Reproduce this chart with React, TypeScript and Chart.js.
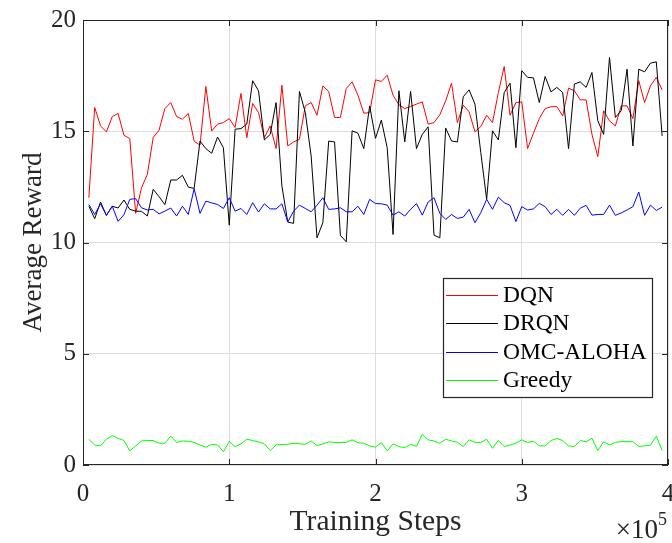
import React, { useEffect, useRef } from 'react';
import { Chart, registerables } from 'chart.js';

Chart.register(...registerables);

// ---- data ----
const DQN = [
  12.01, 16.07, 15.24, 14.97, 15.66, 15.80, 14.82, 14.67, 11.31, 12.46,
  13.06, 14.72, 15.05, 16.02, 16.29, 15.66, 15.54, 15.80, 14.56, 14.37,
  17.01, 15.01, 15.32, 15.39, 15.57, 15.17, 16.70, 14.71, 16.25, 15.84,
  14.71, 15.24, 14.22, 17.07, 14.34, 14.52, 14.64, 16.14, 16.29, 15.72,
  17.04, 16.79, 15.62, 15.62, 16.92, 17.22, 16.62, 15.81, 15.84, 17.31,
  17.24, 17.52, 16.62, 16.19, 16.02, 16.11, 16.22, 16.32, 15.32, 15.39,
  15.74, 16.37, 17.16, 15.39, 16.17, 15.87, 14.98, 15.21, 15.72, 15.39,
  16.74, 17.91, 15.72, 16.29, 16.32, 14.22, 14.91, 15.57, 16.02, 16.10,
  16.11, 15.69, 16.94, 16.82, 16.41, 16.41, 14.86, 13.86, 15.92, 15.47,
  15.24, 16.14, 16.14, 15.57, 17.27, 16.29, 17.04, 17.42, 16.86,
];

const DRQN = [
  11.63, 11.07, 11.82, 11.22, 11.63, 11.55, 11.91, 11.49, 11.41, 11.40,
  11.19, 12.39, 12.06, 11.70, 12.81, 12.81, 13.02, 12.49, 12.43, 14.56,
  14.22, 14.01, 14.74, 14.26, 10.78, 15.09, 15.12, 15.32, 17.27, 16.82,
  14.61, 14.86, 16.29, 12.54, 10.92, 10.86, 16.79, 15.84, 13.89, 10.21,
  10.89, 14.56, 14.52, 10.32, 10.03, 15.02, 14.91, 14.22, 16.14, 14.68,
  15.50, 14.26, 10.36, 16.82, 14.52, 16.79, 14.22, 14.86, 15.20, 10.33,
  10.21, 15.14, 14.56, 14.52, 16.55, 16.86, 16.22, 14.04, 11.94, 15.02,
  14.61, 16.74, 17.16, 14.26, 17.72, 17.42, 17.40, 16.29, 17.46, 16.77,
  16.97, 16.74, 14.22, 17.12, 17.22, 16.97, 17.64, 15.47, 14.86, 18.32,
  15.62, 15.92, 17.79, 14.34, 17.79, 17.67, 18.06, 18.12, 14.79,
];

const OMC_ALOHA = [
  11.71, 11.26, 11.74, 11.22, 11.63, 10.95, 11.25, 11.94, 11.97, 11.56,
  11.46, 11.49, 11.29, 11.41, 11.55, 11.19, 11.63, 11.26, 12.42, 11.31,
  11.86, 11.78, 11.71, 11.53, 12.01, 11.41, 11.53, 11.26, 11.79, 11.37,
  11.74, 11.51, 11.51, 11.74, 10.92, 11.41, 11.68, 11.53, 11.38, 11.68,
  12.01, 11.49, 11.51, 11.56, 11.38, 11.38, 11.63, 11.26, 11.94, 11.75,
  11.74, 11.68, 11.23, 11.38, 11.19, 11.49, 11.75, 11.23, 11.82, 12.01,
  11.31, 11.04, 11.26, 11.08, 11.14, 11.49, 10.89, 11.34, 11.94, 11.49,
  12.04, 11.79, 11.67, 10.94, 11.61, 11.46, 11.51, 11.76, 11.61, 11.26,
  11.49, 11.22, 11.49, 11.22, 11.54, 11.67, 11.23, 11.26, 11.26, 11.68,
  11.22, 11.33, 11.46, 11.61, 12.27, 11.22, 11.68, 11.44, 11.59,
];

const GREEDY = [
  1.16, 0.90, 0.86, 1.16, 1.32, 1.20, 1.10, 0.63, 0.86, 1.08,
  1.10, 1.10, 0.98, 0.98, 1.30, 1.01, 1.08, 1.07, 1.01, 0.90,
  0.80, 0.93, 0.90, 0.60, 1.05, 0.83, 0.95, 1.16, 1.10, 1.04,
  0.95, 0.65, 0.90, 0.92, 0.93, 0.98, 0.95, 0.93, 1.08, 0.87,
  0.95, 1.04, 1.01, 1.01, 1.02, 1.13, 1.00, 0.98, 0.86, 0.80,
  1.01, 0.63, 0.95, 0.83, 0.78, 0.93, 0.83, 1.38, 1.13, 1.08,
  0.98, 1.16, 1.08, 1.02, 0.83, 1.13, 1.02, 1.01, 1.16, 0.75,
  1.10, 0.83, 0.90, 0.98, 1.13, 1.01, 1.07, 0.86, 0.86, 1.10,
  1.19, 1.10, 0.86, 0.83, 1.10, 1.04, 1.20, 0.65, 1.04, 0.90,
  1.02, 1.05, 1.05, 1.05, 0.83, 0.86, 0.89, 1.30, 0.65,
];

// training step of each sample (one sample every 4000 steps)
const STEP_INTERVAL = 4000;
const STEPS = DQN.map((_, k) => (k + 1) * STEP_INTERVAL);

const SERIES_NAMES = ['DQN', 'DRQN', 'OMC-ALOHA', 'Greedy'];
const SERIES_VALUES = [DQN, DRQN, OMC_ALOHA, GREEDY];
const SERIES_COLORS = ['#ff0000', '#000000', '#0000ff', '#00ff00'];

const X_TICKS = [0, 1, 2, 3, 4]; // in units of 10^5 steps
const X_EXPONENT = '5';
const Y_TICKS = [0, 5, 10, 15, 20];
const X_TITLE = 'Training Steps';
const Y_TITLE = 'Average Reward';

// ---- styling ----
const FONT = '"Liberation Serif", "Times New Roman", Times, serif';
const INK = '#262626';
const GRID = '#dedede';
const TICK_SIZE = 25;
const X_TITLE_SIZE = 29.5;
const Y_TITLE_SIZE = 27;
const LEGEND_SIZE = 23.5;
const EXP_BASE_SIZE = 27;
const EXP_SIZE = 18;

const matlabDecor = {
  id: 'matlabDecor',
  afterDatasetsDraw(chart: any) {
    const { ctx, chartArea } = chart;
    const { left, right, top, bottom } = chartArea;
    const xs = chart.scales.x;
    const ys = chart.scales.y;
    ctx.save();

    // axes box and inward ticks
    ctx.strokeStyle = INK;
    ctx.lineWidth = 1;
    const L = 6;
    ctx.beginPath();
    xs.ticks.forEach((t: any) => {
      const px = Math.round(xs.getPixelForValue(t.value)) + 0.5;
      ctx.moveTo(px, bottom);
      ctx.lineTo(px, bottom - L);
      ctx.moveTo(px, top);
      ctx.lineTo(px, top + L);
    });
    ys.ticks.forEach((t: any) => {
      const py = Math.round(ys.getPixelForValue(t.value)) + 0.5;
      ctx.moveTo(left, py);
      ctx.lineTo(left + L, py);
      ctx.moveTo(right, py);
      ctx.lineTo(right - L, py);
    });
    ctx.stroke();
    ctx.strokeRect(left + 0.5, top + 0.5, right - left - 1, bottom - top - 1);

    // legend
    const boxW = 210;
    const boxH = 120;
    const boxRight = right - 15;
    const boxLeft = boxRight - boxW;
    const boxTop = top + 258;
    ctx.fillStyle = '#ffffff';
    ctx.fillRect(boxLeft, boxTop, boxW, boxH);
    ctx.strokeStyle = INK;
    ctx.lineWidth = 1.2;
    ctx.strokeRect(boxLeft + 0.5, boxTop + 0.5, boxW - 1, boxH - 1);
    ctx.font = `${LEGEND_SIZE}px ${FONT}`;
    ctx.textBaseline = 'middle';
    ctx.textAlign = 'left';
    chart.data.datasets.forEach((ds: any, k: number) => {
      const ry = Math.round(boxTop + 17 + k * 28.3) + 0.5;
      ctx.strokeStyle = ds.borderColor;
      ctx.lineWidth = 1;
      ctx.beginPath();
      ctx.moveTo(boxLeft + 3, ry);
      ctx.lineTo(boxLeft + 55, ry);
      ctx.stroke();
      ctx.fillStyle = '#000000';
      ctx.fillText(ds.label, boxLeft + 60, ry);
    });

    // x exponent label
    ctx.fillStyle = INK;
    ctx.textBaseline = 'alphabetic';
    ctx.font = `${EXP_BASE_SIZE}px ${FONT}`;
    const base = '\u00d710';
    const w1 = ctx.measureText(base).width;
    ctx.font = `${EXP_SIZE}px ${FONT}`;
    const w2 = ctx.measureText(X_EXPONENT).width;
    const startX = right - 1 - w1 - w2;
    ctx.font = `${EXP_BASE_SIZE}px ${FONT}`;
    ctx.fillText(base, startX, 538);
    ctx.font = `${EXP_SIZE}px ${FONT}`;
    ctx.fillText(X_EXPONENT, startX + w1, 525);

    ctx.restore();
  },
};

export default function App() {
  const ref = useRef<HTMLCanvasElement | null>(null);

  useEffect(() => {
    if (!ref.current) return;
    const datasets = SERIES_NAMES.map((name, k) => ({
      label: name,
      data: STEPS.map((s, i) => ({ x: s, y: SERIES_VALUES[k][i] })),
      borderColor: SERIES_COLORS[k],
      backgroundColor: SERIES_COLORS[k],
      borderWidth: 1,
      pointRadius: 0,
      pointHoverRadius: 0,
      fill: false,
      tension: 0,
      order: SERIES_NAMES.length - 1 - k,
    }));

    const chart = new Chart(ref.current, {
      type: 'line',
      data: { datasets },
      options: {
        responsive: false,
        animation: false,
        devicePixelRatio: 1,
        layout: { padding: { top: 20, right: 4, left: 0, bottom: 0 } },
        plugins: {
          legend: { display: false },
          tooltip: { enabled: false },
        },
        scales: {
          x: {
            type: 'linear',
            min: 0,
            max: 400000,
            afterBuildTicks: (scale: any) => {
              scale.ticks = X_TICKS.map((v) => ({ value: v * 100000 }));
            },
            afterFit: (scale: any) => {
              scale.height = 78;
              scale.paddingLeft = 0;
              scale.paddingRight = 0;
            },
            ticks: {
              callback: (v: any) => String(Number(v) / 100000),
              font: { family: FONT, size: TICK_SIZE },
              color: INK,
              padding: 14,
              maxRotation: 0,
              autoSkip: false,
            },
            grid: { color: GRID, lineWidth: 1, drawTicks: false },
            border: { display: false },
            title: {
              display: true,
              text: X_TITLE,
              font: { family: FONT, size: X_TITLE_SIZE },
              color: INK,
              padding: { top: 0, bottom: 3 },
            },
          },
          y: {
            type: 'linear',
            min: 0,
            max: 20,
            afterBuildTicks: (scale: any) => {
              scale.ticks = Y_TICKS.map((v) => ({ value: v }));
            },
            afterFit: (scale: any) => {
              scale.width = 83;
              scale.paddingTop = 0;
              scale.paddingBottom = 0;
            },
            ticks: {
              font: { family: FONT, size: TICK_SIZE },
              color: INK,
              padding: 7,
              autoSkip: false,
            },
            grid: { color: GRID, lineWidth: 1, drawTicks: false },
            border: { display: false },
            title: {
              display: true,
              text: Y_TITLE,
              font: { family: FONT, size: Y_TITLE_SIZE },
              color: INK,
              padding: { top: 18, bottom: 0 },
            },
          },
        },
      },
      plugins: [matlabDecor],
    });

    return () => chart.destroy();
  }, []);

  return (
    <div style={{ position: 'fixed', left: 0, top: 0, width: 672, height: 543, background: '#ffffff' }}>
      <canvas ref={ref} width={672} height={543} style={{ display: 'block', width: 672, height: 543 }} />
    </div>
  );
}
